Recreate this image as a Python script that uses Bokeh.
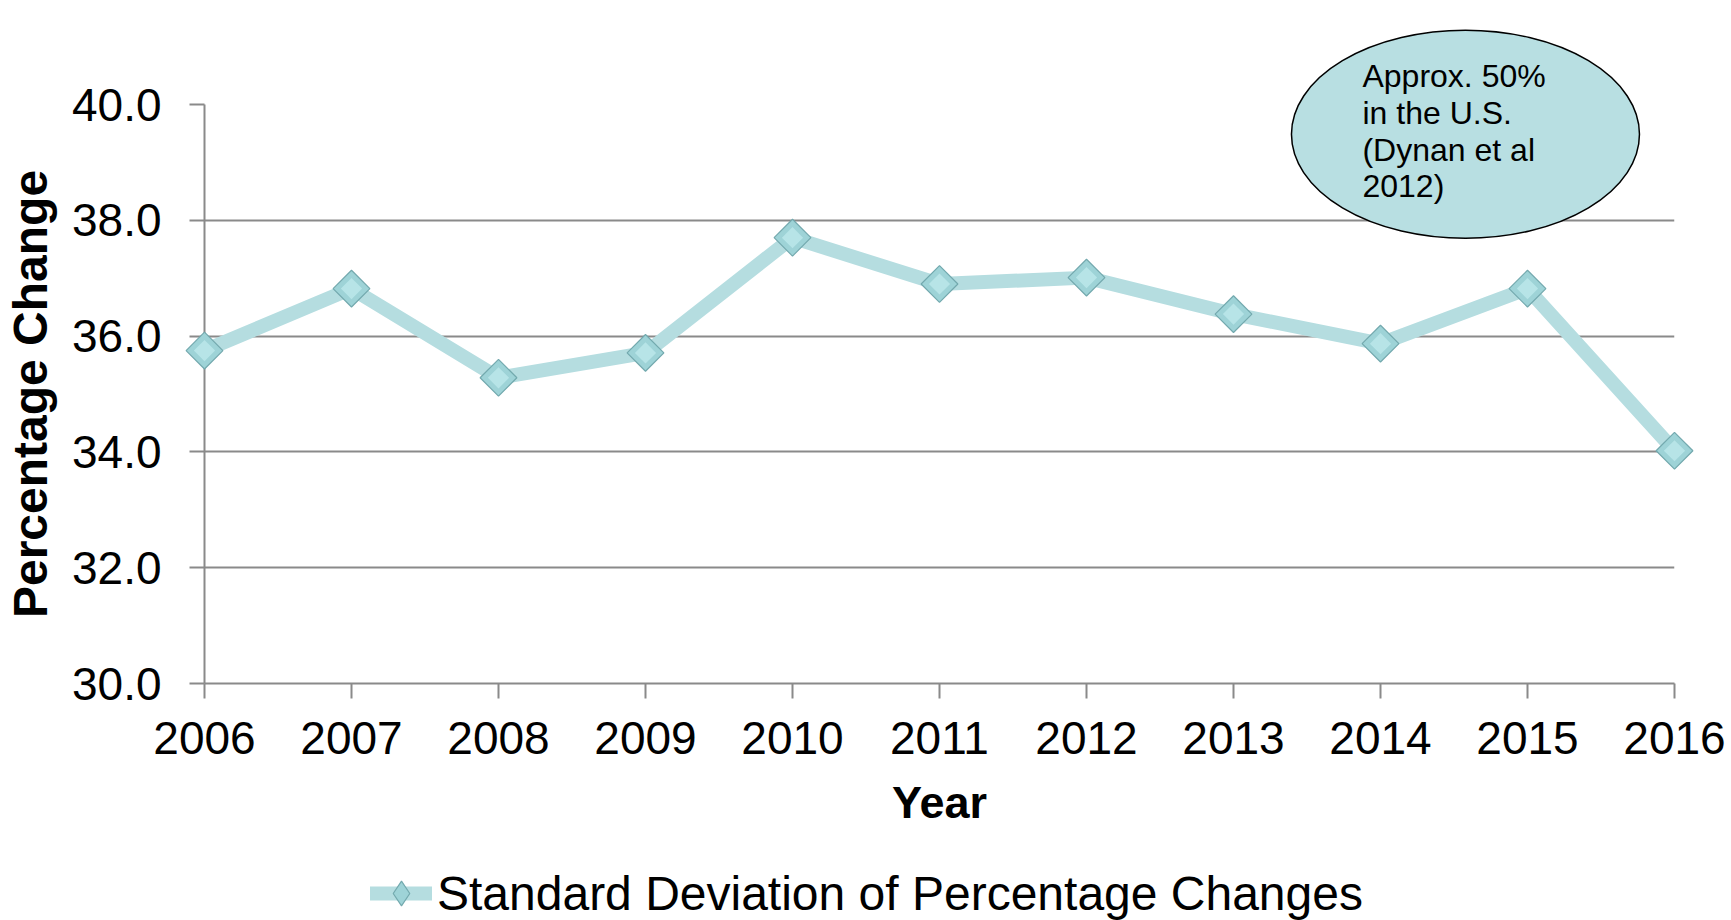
import math
from bokeh.plotting import figure
from bokeh.layouts import column
from bokeh.models import (FixedTicker, NumeralTickFormatter, Legend, LegendItem,
                          Range1d)
from bokeh.core.properties import value
from bokeh.embed import file_html
from bokeh.resources import INLINE

# ---- data ----
years = [2006, 2007, 2008, 2009, 2010, 2011, 2012, 2013, 2014, 2015, 2016]
std_dev = [35.75, 36.82, 35.28, 35.71, 37.70, 36.90, 37.01, 36.38, 35.87, 36.82, 34.02]
y_ticks = [30, 32, 34, 36, 38, 40]
series_name = "Standard Deviation of Percentage Changes"
note_text = "Approx. 50%\nin the U.S.\n(Dynan et al\n2012)"
note_x = 2014.578
note_y = 39.486

FONT = "Liberation Sans"
GRID = "#8a8a8a"
LINE_C = "#b5dde0"
LINE_KW = dict(line_color=LINE_C, line_width=14, line_join="round", line_cap="round")
MARK_FILL = "#9ed3d7"
MARK_EDGE = "#73a9ae"

p = figure(width=1731, height=840, output_backend="svg", toolbar_location=None,
           x_range=Range1d(2006, 2016), y_range=Range1d(30, 40),
           min_border_left=202, min_border_right=57, min_border_top=104,
           min_border_bottom=157)
p.outline_line_color = None
p.background_fill_color = "white"
p.border_fill_color = "white"

# axes
for ax in (p.xaxis[0], p.yaxis[0]):
    ax.axis_line_color = GRID
    ax.axis_line_width = 2
    ax.major_tick_line_color = GRID
    ax.major_tick_line_width = 2
    ax.major_tick_out = 15
    ax.major_tick_in = 0
    ax.minor_tick_line_color = None
    ax.major_label_text_font = FONT
    ax.major_label_text_font_size = "46px"
    ax.major_label_text_color = "black"
    ax.axis_label_text_font = FONT
    ax.axis_label_text_font_style = "bold"
    ax.axis_label_text_color = "black"

p.xaxis.ticker = FixedTicker(ticks=years)
p.xaxis.formatter = NumeralTickFormatter(format="0")
p.xaxis.axis_label = "Year"
p.xaxis.axis_label_text_font_size = "45px"
p.xaxis.major_label_standoff = 23
p.xaxis.axis_label_standoff = 20

p.yaxis.ticker = FixedTicker(ticks=y_ticks)
p.yaxis.formatter = NumeralTickFormatter(format="0.0")
p.yaxis.axis_label = "Percentage Change"
p.yaxis.axis_label_text_font_size = "48px"
p.yaxis.major_label_standoff = 28
p.yaxis.axis_label_standoff = 12

p.xgrid.grid_line_color = None
p.ygrid.grid_line_color = GRID
p.ygrid.grid_line_width = 2

# series
p.line(years, std_dev, level="overlay", **LINE_KW)
p.scatter(years, std_dev, marker="square", angle=math.pi / 4, size=26,
          fill_color=MARK_FILL, line_color=MARK_EDGE, line_width=1.2, level="overlay")
p.scatter(years, std_dev, marker="square", angle=math.pi / 4, size=15,
          fill_color="#bde8eb", line_color=None, fill_alpha=0.8, level="overlay")

# annotation ellipse with note
p.ellipse(x=[note_x], y=[note_y], width=348, height=208, width_units="screen",
          height_units="screen", fill_color="#b8dfe2", line_color="black",
          line_width=1.5, level="overlay")
p.text(x=[note_x], y=[note_y], text=[note_text], x_offset=-103, y_offset=-3,
       text_font=value(FONT), text_font_size="32px", text_color="black",
       text_align="left", text_baseline="middle", text_line_height=1.02,
       level="overlay")

# legend strip (same series, drawn outside its visible range so only the key shows)
lg = figure(width=1731, height=80, output_backend="svg", toolbar_location=None,
            x_range=Range1d(0, 1), y_range=Range1d(0, 1),
            x_axis_location=None, y_axis_location=None,
            min_border=0, outline_line_color=None)
lg.grid.visible = False
lg.border_fill_color = "white"
lr = lg.line(years, std_dev, **LINE_KW)
lm = lg.scatter(years, std_dev, marker="diamond", size=26, fill_color=MARK_FILL,
                line_color=MARK_EDGE, line_width=1.2)
legend = Legend(items=[LegendItem(label=series_name, renderers=[lr, lm])],
                location=(166, -13), orientation="horizontal",
                label_text_font=FONT, label_text_font_size="48px",
                label_text_color="black", glyph_width=62, glyph_height=80,
                label_standoff=5, padding=0, margin=0, spacing=0,
                border_line_color=None, background_fill_alpha=0)
lg.add_layout(legend, "center")

layout = column(p, lg, spacing=0)
open("out.html", "w").write(file_html(layout, INLINE))
